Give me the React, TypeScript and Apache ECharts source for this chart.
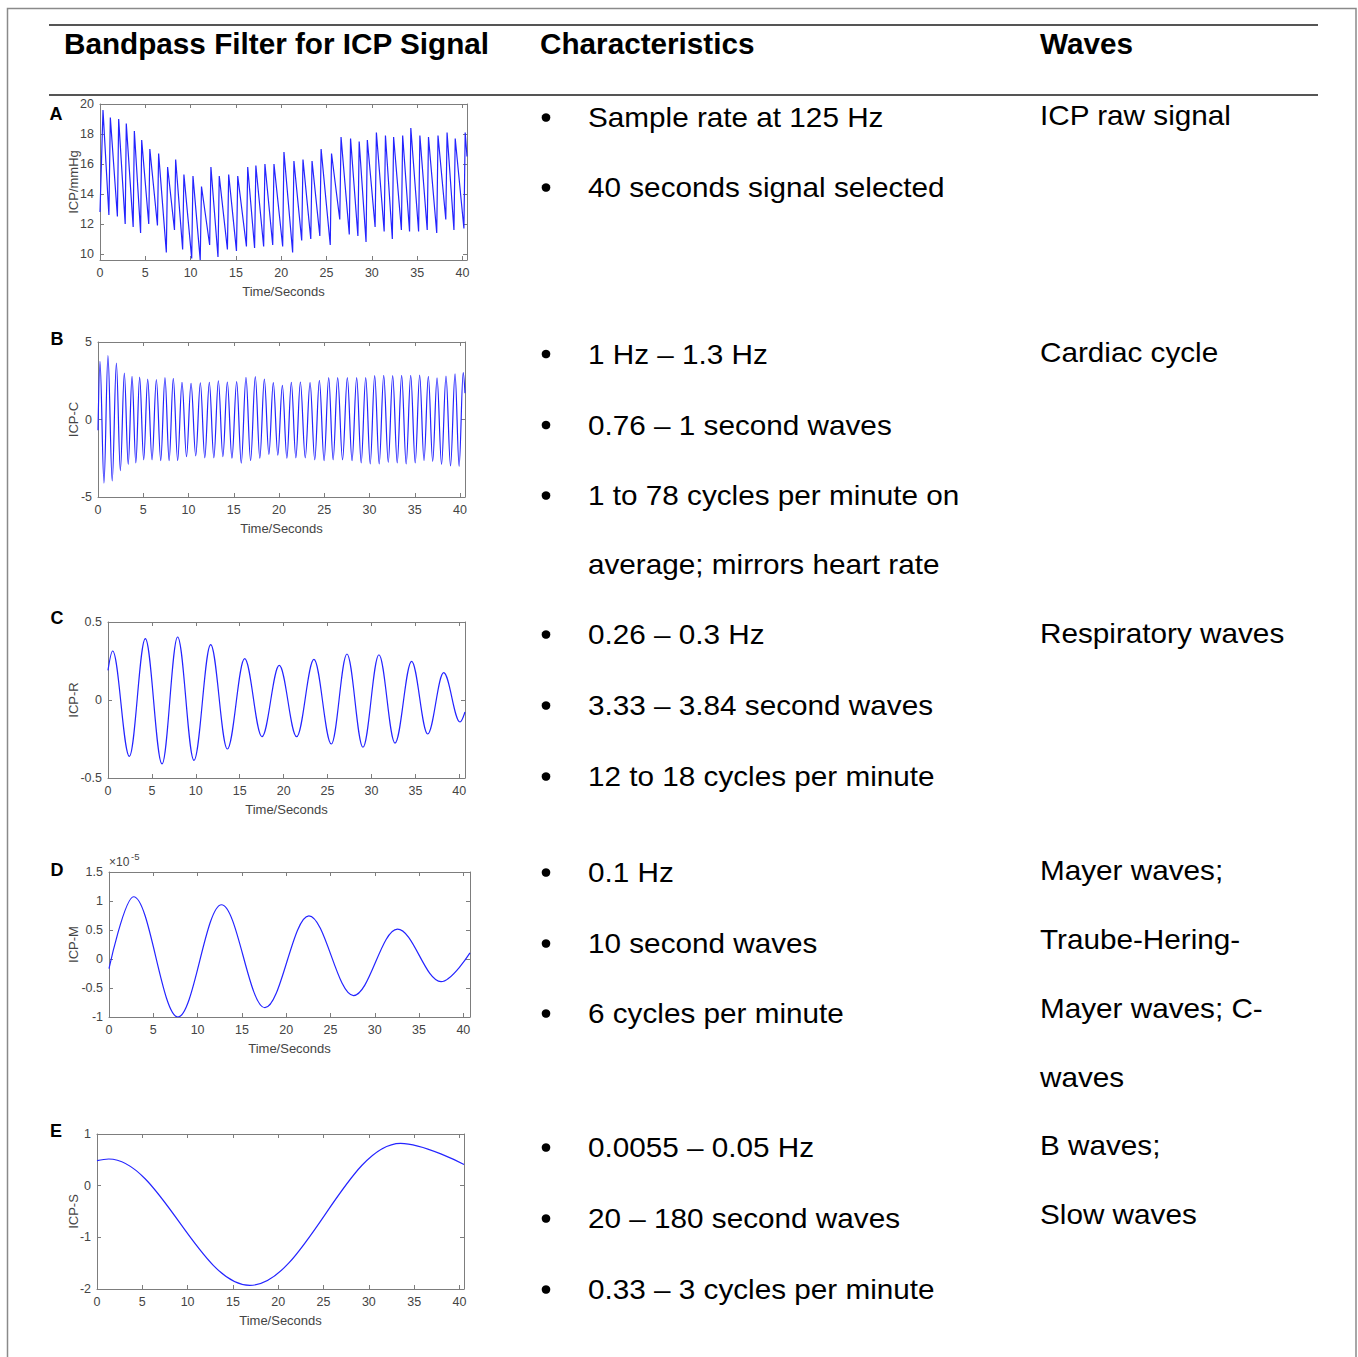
import React, { useEffect, useRef } from "react";
import * as echarts from "echarts";

// ---------- DATA ----------
const headers = ["Bandpass Filter for ICP Signal", "Characteristics", "Waves"];
const panelLetters = ["A", "B", "C", "D", "E"];
const yAxisNames = ["ICP/mmHg", "ICP-C", "ICP-R", "ICP-M", "ICP-S"];
const xAxisName = "Time/Seconds";
const xTicks = [0, 5, 10, 15, 20, 25, 30, 35, 40];
const yTicksA = [10, 12, 14, 16, 18, 20];
const yTicksB = [-5, 0, 5];
const yTicksC = [-0.5, 0, 0.5];
const yTicksD = [-1, -0.5, 0, 0.5, 1, 1.5];
const yTicksE = [-2, -1, 0, 1];
const scaleNoteD = ["×10", "-5"];

// raw ICP (mmHg): [time s, value] at troughs and peaks of each beat
const signalA: [number, number][] = [
  [0, 12.8], [0.33, 19.6], [0.98, 12.6], [1.14, 19.1], [1.92, 12.5], [2.06, 19.0],
  [2.78, 12.0], [2.9, 18.7], [3.66, 11.8], [3.79, 18.2], [4.48, 11.4], [4.6, 17.6],
  [5.38, 12.0], [5.5, 17.0], [6.34, 11.9], [6.47, 16.7], [7.32, 10.1], [7.46, 15.8],
  [8.22, 11.6], [8.35, 16.3], [9.12, 10.3], [9.26, 15.3], [10.12, 9.7], [10.26, 15.2],
  [11.06, 9.6], [11.2, 14.5], [12.1, 10.6], [12.24, 15.8], [13.02, 9.8], [13.16, 15.2],
  [14.06, 10.3], [14.2, 15.3], [15.06, 10.2], [15.2, 15.2], [16.16, 10.5], [16.3, 15.8],
  [17.06, 10.4], [17.2, 15.9], [18.06, 10.5], [18.2, 16.0], [19.06, 10.6], [19.2, 16.0],
  [20.16, 10.5], [20.3, 16.8], [21.26, 10.1], [21.4, 16.2], [22.26, 10.9], [22.4, 16.3],
  [23.26, 11.0], [23.4, 16.2], [24.26, 11.2], [24.4, 17.0], [25.41, 10.6], [25.55, 16.7],
  [26.46, 12.3], [26.6, 17.8], [27.51, 11.3], [27.65, 17.7], [28.46, 11.2], [28.6, 17.5],
  [29.36, 10.8], [29.5, 17.6], [30.36, 11.8], [30.5, 18.1], [31.36, 11.5], [31.5, 17.9],
  [32.26, 11.0], [32.4, 17.8], [33.26, 11.6], [33.4, 17.9], [34.16, 11.5], [34.3, 18.4],
  [35.16, 11.5], [35.3, 17.9], [36.11, 11.6], [36.25, 17.8], [37.16, 11.4], [37.3, 17.9],
  [38.16, 12.3], [38.3, 18.1], [39.06, 11.6], [39.2, 17.7], [40.16, 11.7], [40.3, 18.1],
  [40.5, 16.5],
];

// cardiac component: peaks and troughs
const signalB: [number, number][] = [
  [0, -0.7], [0.22, 3.75], [0.66, -4.1], [1.1, 4.13], [1.57, -3.96], [2.03, 3.64],
  [2.47, -3.3], [2.91, 3.0], [3.34, -2.9], [3.76, 2.78], [4.18, -2.8], [4.6, 2.74],
  [5.05, -2.6], [5.49, 2.6], [5.97, -2.6], [6.45, 2.58], [6.93, -2.65], [7.4, 2.7],
  [7.86, -2.65], [8.32, 2.65], [8.8, -2.65], [9.28, 2.4], [9.78, -2.4], [10.28, 2.33],
  [10.8, -2.35], [11.31, 2.37], [11.8, -2.47], [12.3, 2.4], [12.8, -2.47], [13.3, 2.5],
  [13.8, -2.4], [14.29, 2.42], [14.8, -2.5], [15.32, 2.45], [15.83, -2.82], [16.35, 2.72],
  [16.86, -2.65], [17.38, 2.76], [17.88, -2.5], [18.38, 2.6], [18.88, -2.25], [19.37, 2.38],
  [19.87, -2.3], [20.37, 2.2], [20.87, -2.5], [21.36, 2.4], [21.86, -2.47], [22.36, 2.42],
  [22.9, -2.47], [23.43, 2.38], [23.95, -2.6], [24.46, 2.53], [24.98, -2.65], [25.49, 2.7],
  [25.98, -2.6], [26.48, 2.7], [27.02, -2.6], [27.55, 2.7], [28.07, -2.65], [28.58, 2.7],
  [29.08, -2.8], [29.58, 2.7], [30.08, -2.87], [30.57, 2.83], [31.07, -2.87], [31.57, 2.85],
  [32.07, -2.76], [32.56, 2.83], [33.06, -2.8], [33.55, 2.85], [34.05, -2.87], [34.55, 2.85],
  [35.05, -2.8], [35.54, 2.87], [36.02, -2.65], [36.5, 2.78], [36.98, -2.7], [37.46, 2.68],
  [37.96, -2.9], [38.45, 2.8], [38.95, -3.0], [39.45, 2.95], [39.9, -3.02], [40.35, 3.02],
  [40.55, 1.7],
];

// respiratory component: peaks and troughs
const signalC: [number, number][] = [
  [0, 0.19], [0.53, 0.314], [2.43, -0.361], [4.25, 0.393], [6.15, -0.41], [7.93, 0.404],
  [9.79, -0.387], [11.69, 0.355], [13.59, -0.314], [15.56, 0.265], [17.53, -0.235],
  [19.5, 0.222], [21.48, -0.235], [23.45, 0.26], [25.43, -0.282], [27.21, 0.295],
  [29.03, -0.303], [30.85, 0.29], [32.68, -0.276], [34.57, 0.248], [36.4, -0.218],
  [38.22, 0.175], [40.08, -0.141], [40.65, -0.077],
];

// Mayer component (values in units of 1e-5)
const signalD: [number, number][] = [
  [0, -0.165], [2.78, 1.073], [7.78, -1.0], [12.7, 0.935], [17.6, -0.84],
  [22.56, 0.745], [27.6, -0.63], [32.56, 0.515], [37.48, -0.39], [40.75, 0.105],
];

// slow component
const signalE: [number, number][] = [
  [0, 0.485], [1.3, 0.516], [16.87, -1.93], [33.5, 0.82], [40.5, 0.41],
];

const charA = ["Sample rate at 125 Hz", "40 seconds signal selected"];
const charB = ["1 Hz – 1.3 Hz", "0.76 – 1 second waves", "1 to 78 cycles per minute on", "average; mirrors heart rate"];
const charC = ["0.26 – 0.3 Hz", "3.33 – 3.84 second waves", "12 to 18 cycles per minute"];
const charD = ["0.1 Hz", "10 second waves", "6 cycles per minute"];
const charE = ["0.0055 – 0.05 Hz", "20 – 180 second waves", "0.33 – 3 cycles per minute"];
const bulletsB = [true, true, true, false];
const wavesA = ["ICP raw signal"];
const wavesB = ["Cardiac cycle"];
const wavesC = ["Respiratory waves"];
const wavesD = ["Mayer waves;", "Traube-Hering-", "Mayer waves; C-", "waves"];
const wavesE = ["B waves;", "Slow waves"];

// ---------- LAYOUT ----------
const FONT = '"Liberation Sans", Arial, Helvetica, sans-serif';
const AXIS_COLOR = "#7d7d7d";
const LABEL_COLOR = "#444444";
const LINE_COLOR = "#2424ff";

type Panel = {
  data: [number, number][];
  yTicks: number[];
  yMin: number;
  yMax: number;
  xMax: number;
  smooth: boolean;
  box: { left: number; top: number; width: number; height: number };
  letterPos: [number, number];
  chars: string[];
  bullets: boolean[];
  charY: number[];
  waves: string[];
  wavesY: number[];
};

const panels: Panel[] = [
  {
    data: signalA, yTicks: yTicksA, yMin: 9.6, yMax: 20, xMax: 40.5, smooth: false,
    box: { left: 100, top: 104, width: 367, height: 156 }, letterPos: [56, 114],
    chars: charA, bullets: [true, true], charY: [117.5, 187.5],
    waves: wavesA, wavesY: [115],
  },
  {
    data: signalB, yTicks: yTicksB, yMin: -5, yMax: 5, xMax: 40.55, smooth: true,
    box: { left: 98, top: 342, width: 367, height: 155 }, letterPos: [57, 339],
    chars: charB, bullets: bulletsB, charY: [354, 425, 495.5, 564.5],
    waves: wavesB, wavesY: [352],
  },
  {
    data: signalC, yTicks: yTicksC, yMin: -0.5, yMax: 0.5, xMax: 40.65, smooth: true,
    box: { left: 108, top: 622, width: 357, height: 156 }, letterPos: [57, 618],
    chars: charC, bullets: [true, true, true], charY: [634.5, 705.5, 776.5],
    waves: wavesC, wavesY: [633],
  },
  {
    data: signalD, yTicks: yTicksD, yMin: -1, yMax: 1.5, xMax: 40.75, smooth: true,
    box: { left: 109, top: 872, width: 361, height: 145 }, letterPos: [57, 870],
    chars: charD, bullets: [true, true, true], charY: [872.5, 943.5, 1013.5],
    waves: wavesD, wavesY: [870, 939, 1008, 1077],
  },
  {
    data: signalE, yTicks: yTicksE, yMin: -2, yMax: 1, xMax: 40.5, smooth: true,
    box: { left: 97, top: 1134, width: 367, height: 155 }, letterPos: [56, 1131],
    chars: charE, bullets: [true, true, true], charY: [1147.5, 1218.5, 1289.5],
    waves: wavesE, wavesY: [1145, 1214],
  },
];

function txt(x: number, y: number, text: string, font: string, opts: any = {}) {
  const { align = "left", vAlign = "middle", fill = "#000", scaleX = 1, rotation = 0 } = opts;
  return {
    type: "text",
    x,
    y,
    scaleX,
    rotation,
    silent: true,
    style: {
      text,
      font,
      fill,
      align,
      verticalAlign: vAlign,
      textAlign: align,
      textVerticalAlign: vAlign,
    },
  };
}

function buildOption() {
  const grid: any[] = [];
  const xAxis: any[] = [];
  const yAxis: any[] = [];
  const series: any[] = [];
  const graphic: any[] = [];

  // frame and table rules
  graphic.push({
    type: "rect", silent: true,
    shape: { x: 7.5, y: 8.5, width: 1348.5, height: 1420 },
    style: { fill: "none", stroke: "#8a8a8a", lineWidth: 1.5 },
  });
  [25, 95].forEach((y) =>
    graphic.push({
      type: "line", silent: true,
      shape: { x1: 49, y1: y, x2: 1318, y2: y },
      style: { stroke: "#555555", lineWidth: 2 },
    })
  );
  const headerX = [64, 540, 1040];
  headers.forEach((h, i) => graphic.push(txt(headerX[i], 43, h, `bold 29.7px ${FONT}`)));

  const bodyFont = `27px ${FONT}`;
  const bodyScale = 1.1;

  panels.forEach((p, i) => {
    const { left, top, width, height } = p.box;
    grid.push({ left, top, width, height, containLabel: false, outerBoundsMode: "none" });

    const common = (ticks: number[], showLabel: boolean, position: string) => ({
      gridIndex: i,
      position,
      axisLine: { show: true, onZero: false, lineStyle: { color: AXIS_COLOR, width: 1 } },
      axisTick: { show: true, inside: true, length: 4, customValues: ticks, lineStyle: { color: AXIS_COLOR, width: 1 } },
      axisLabel: {
        show: showLabel, customValues: ticks, margin: 6, color: LABEL_COLOR,
        fontSize: 12.5, fontFamily: FONT,
        showMinLabel: true, showMaxLabel: true,
      },
      splitLine: { show: false },
    });

    xAxis.push({ type: "value", min: 0, max: p.xMax, ...common(xTicks, true, "bottom") });
    xAxis.push({ type: "value", min: 0, max: p.xMax, ...common(xTicks, false, "top") });
    yAxis.push({ type: "value", min: p.yMin, max: p.yMax, ...common(p.yTicks, true, "left") });
    yAxis.push({ type: "value", min: p.yMin, max: p.yMax, ...common(p.yTicks, false, "right") });

    series.push({
      type: "line",
      xAxisIndex: 2 * i,
      yAxisIndex: 2 * i,
      data: p.data,
      showSymbol: false,
      symbol: "none",
      silent: true,
      smooth: p.smooth ? 0.36 : false,
      smoothMonotone: p.smooth ? "x" : undefined,
      lineStyle: { color: LINE_COLOR, width: 1.2 },
    });

    // panel letter
    graphic.push(txt(p.letterPos[0], p.letterPos[1], panelLetters[i], `bold 18px ${FONT}`, { align: "center" }));
    // axis titles
    graphic.push(txt(left + width / 2, top + height + 31, xAxisName, `13px ${FONT}`, { align: "center", fill: LABEL_COLOR }));
    graphic.push(txt(73, top + height / 2, yAxisNames[i], `13px ${FONT}`, { align: "center", fill: LABEL_COLOR, rotation: Math.PI / 2 }));

    // characteristics column
    p.chars.forEach((c, k) => {
      if (p.bullets[k]) {
        graphic.push({
          type: "circle", silent: true,
          shape: { cx: 546, cy: p.charY[k], r: 4.3 },
          style: { fill: "#000" },
        });
      }
      graphic.push(txt(588, p.charY[k], c, bodyFont, { scaleX: bodyScale }));
    });
    // waves column
    p.waves.forEach((w, k) => graphic.push(txt(1040, p.wavesY[k], w, bodyFont, { scaleX: bodyScale })));
  });

  // ×10^-5 multiplier of panel D
  graphic.push(txt(109, 862, scaleNoteD[0], `12px ${FONT}`, { fill: LABEL_COLOR }));
  graphic.push(txt(131, 856, scaleNoteD[1], `9.5px ${FONT}`, { fill: LABEL_COLOR }));

  return {
    animation: false,
    backgroundColor: "#ffffff",
    textStyle: { fontFamily: FONT },
    grid,
    xAxis,
    yAxis,
    series,
    graphic: { elements: graphic },
  };
}

export default function App() {
  const ref = useRef<HTMLDivElement>(null);
  useEffect(() => {
    if (!ref.current) return;
    const chart = echarts.init(ref.current, null, { renderer: "svg" });
    chart.setOption(buildOption() as any);
    return () => chart.dispose();
  }, []);
  return (
    <div
      ref={ref}
      style={{ position: "absolute", left: 0, top: 0, width: 1358, height: 1357, background: "#fff" }}
    />
  );
}
